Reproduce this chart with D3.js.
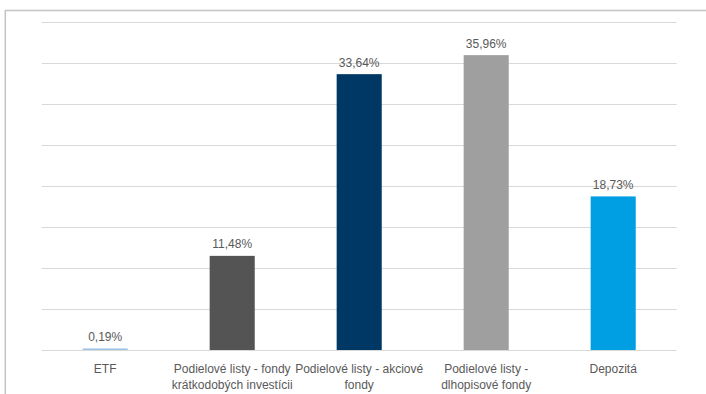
<!DOCTYPE html>
<html>
<head>
<meta charset="utf-8">
<script src="https://cdn.jsdelivr.net/npm/d3@7"></script>
<style>
  html, body { margin: 0; padding: 0; background: #fff; }
  svg { display: block; }
  text { font-family: "Liberation Sans", Arial, sans-serif; }
</style>
</head>
<body>
<svg id="chart" width="706" height="394"></svg>
<script>
// Category labels, one entry per line of wrapped text
const categories = [
  ["ETF"],
  ["Podielové listy - fondy", "krátkodobých investícii"],
  ["Podielové listy - akciové", "fondy"],
  ["Podielové listy -", "dlhopisové fondy"],
  ["Depozitá"]
];
// Share of each asset class, in percent
const values = [0.19, 11.48, 33.64, 35.96, 18.73];
const valueLabels = ["0,19%", "11,48%", "33,64%", "35,96%", "18,73%"];
const barColors = ["#9dc3e6", "#545454", "#003865", "#9f9f9f", "#009fe3"];
// Gridline positions on the value axis
const gridTicks = [0, 5, 10, 15, 20, 25, 30, 35, 40];

const svg = d3.select("#chart");
const W = 706, H = 394;
const plot = { left: 41.7, right: 676.7, top: 22, bottom: 350 };

// Frame lines along the top and left edge
svg.append("line")
  .attr("x1", 5).attr("x2", W).attr("y1", 10.5).attr("y2", 10.5)
  .attr("stroke", "#c4c4c4").attr("stroke-width", 1.5);
svg.append("line")
  .attr("x1", 5.3).attr("x2", 5.3).attr("y1", 10).attr("y2", H)
  .attr("stroke", "#c4c4c4").attr("stroke-width", 1.5);

const idx = d3.range(categories.length);
const x = d3.scaleBand()
  .domain(idx)
  .range([plot.left, plot.right])
  .paddingInner(0.645)
  .paddingOuter(0.3225);

const y = d3.scaleLinear()
  .domain([0, 40])
  .range([plot.bottom, plot.top]);

// Horizontal gridlines
svg.append("g")
  .selectAll("line")
  .data(gridTicks)
  .join("line")
  .attr("x1", plot.left).attr("x2", plot.right)
  .attr("y1", d => Math.round(y(d)) + 0.5)
  .attr("y2", d => Math.round(y(d)) + 0.5)
  .attr("stroke", "#d9d9d9")
  .attr("stroke-width", 1);

// Bars
svg.append("g")
  .selectAll("rect")
  .data(idx)
  .join("rect")
  .attr("x", i => x(i))
  .attr("width", x.bandwidth())
  .attr("y", i => y(values[i]))
  .attr("height", i => y(0) - y(values[i]))
  .attr("fill", i => barColors[i]);

// Value labels above the bars
svg.append("g")
  .selectAll("text")
  .data(idx)
  .join("text")
  .attr("x", i => x(i) + x.bandwidth() / 2)
  .attr("y", i => y(values[i]) - 7.5)
  .attr("text-anchor", "middle")
  .attr("font-size", 12)
  .attr("fill", "#595959")
  .text(i => valueLabels[i]);

// Category labels below the axis
const catG = svg.append("g")
  .selectAll("text")
  .data(idx)
  .join("text")
  .attr("x", i => x(i) + x.bandwidth() / 2)
  .attr("y", 373)
  .attr("text-anchor", "middle")
  .attr("font-size", 12)
  .attr("fill", "#595959");

catG.selectAll("tspan")
  .data(i => categories[i].map((t, k) => ({ t, k, cx: x(i) + x.bandwidth() / 2 })))
  .join("tspan")
  .attr("x", d => d.cx)
  .attr("dy", d => d.k === 0 ? 0 : 15.5)
  .text(d => d.t);
</script>
</body>
</html>
